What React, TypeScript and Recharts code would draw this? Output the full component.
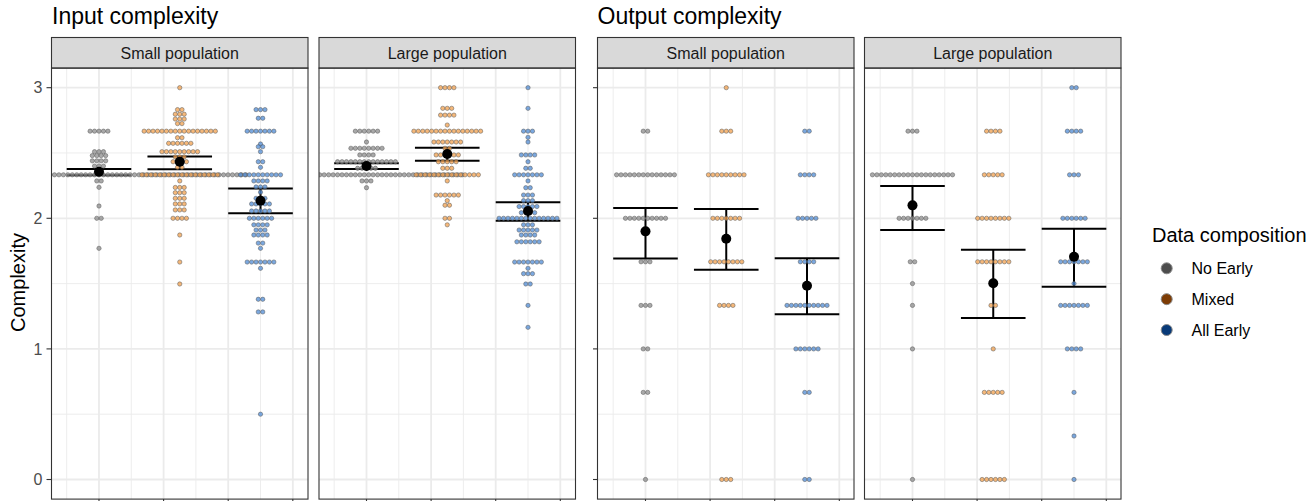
import { ScatterChart, Scatter, XAxis, YAxis, CartesianGrid, ErrorBar } from "recharts";

// Data composition groups, facets, plot titles
const GROUPS = ["No Early", "Mixed", "All Early"];
const FACETS = ["Small population", "Large population"];
const PLOT_TITLES = ["Input complexity", "Output complexity"];

// Swarm rows: [complexity value, number of dots at that value]
const IN_SMALL_NO_EARLY = [
  [2.667, 5], [2.51, 3], [2.48, 4], [2.44, 4], [2.4, 3], [2.333, 67],
  [2.286, 2], [2.237, 1], [2.094, 1], [2.0, 2], [1.77, 1],
];
const IN_SMALL_MIXED = [
  [3.0, 1], [2.832, 2], [2.797, 3], [2.76, 3], [2.725, 2], [2.667, 17],
  [2.617, 2], [2.574, 6], [2.51, 9], [2.47, 3], [2.433, 4], [2.39, 2],
  [2.333, 18], [2.286, 1], [2.236, 3], [2.196, 3], [2.153, 3], [2.11, 3],
  [2.064, 3], [2.0, 4], [1.872, 1], [1.665, 1], [1.497, 1],
];
const IN_SMALL_ALL_EARLY = [
  [2.832, 3], [2.766, 2], [2.667, 7], [2.569, 1], [2.548, 2], [2.51, 1],
  [2.433, 2], [2.39, 1], [2.333, 10], [2.286, 4], [2.24, 3], [2.2, 1],
  [2.153, 3], [2.11, 5], [2.056, 5], [2.0, 6], [1.95, 4], [1.91, 3],
  [1.872, 4], [1.81, 2], [1.77, 1], [1.665, 7], [1.617, 1], [1.38, 2],
  [1.283, 2], [0.5, 1],
];
const IN_LARGE_NO_EARLY = [
  [2.667, 6], [2.584, 1], [2.536, 8], [2.485, 4], [2.433, 14], [2.383, 5],
  [2.333, 44], [2.286, 3], [2.234, 1],
];
const IN_LARGE_MIXED = [
  [3.0, 4], [2.842, 3], [2.79, 4], [2.714, 1], [2.667, 16], [2.584, 7],
  [2.536, 2], [2.485, 6], [2.433, 5], [2.383, 3], [2.333, 15], [2.286, 1],
  [2.178, 6], [2.135, 1], [2.1, 2], [2.0, 2], [1.95, 1],
];
const IN_LARGE_ALL_EARLY = [
  [3.0, 1], [2.842, 1], [2.667, 3], [2.62, 1], [2.584, 1], [2.485, 4],
  [2.433, 1], [2.383, 2], [2.333, 7], [2.286, 1], [2.234, 2], [2.178, 3],
  [2.135, 3], [2.09, 5], [2.043, 4], [2.0, 14], [1.95, 3], [1.91, 5],
  [1.872, 4], [1.82, 6], [1.665, 7], [1.617, 1], [1.576, 3], [1.497, 2],
  [1.333, 1], [1.165, 1],
];
const OUT_SMALL_NO_EARLY = [
  [2.667, 2], [2.333, 14], [2.0, 10], [1.667, 3], [1.333, 3], [1.0, 2], [0.667, 2], [0, 1],
];
const OUT_SMALL_MIXED = [
  [3.0, 1], [2.667, 3], [2.333, 9], [2.0, 7], [1.667, 8], [1.333, 4], [0, 3],
];
const OUT_SMALL_ALL_EARLY = [
  [2.667, 2], [2.333, 4], [2.0, 5], [1.667, 4], [1.333, 10], [1.0, 6], [0.667, 2], [0, 2],
];
const OUT_LARGE_NO_EARLY = [
  [2.667, 3], [2.333, 19], [2.0, 7], [1.667, 2], [1.5, 1], [1.333, 1], [1.0, 1], [0, 1],
];
const OUT_LARGE_MIXED = [
  [2.667, 4], [2.333, 5], [2.0, 8], [1.667, 8], [1.333, 2], [1.0, 1], [0.667, 5], [0, 6],
];
const OUT_LARGE_ALL_EARLY = [
  [3.0, 2], [2.667, 4], [2.333, 3], [2.0, 6], [1.667, 7], [1.5, 1], [1.333, 7],
  [1.0, 4], [0.667, 1], [0.333, 1], [0, 1],
];

// Group means and interval ends (No Early, Mixed, All Early)
const IN_SMALL_MEAN = [2.357, 2.433, 2.135];
const IN_SMALL_LO = [2.33, 2.375, 2.038];
const IN_SMALL_HI = [2.377, 2.474, 2.229];
const IN_LARGE_MEAN = [2.4, 2.492, 2.056];
const IN_LARGE_LO = [2.377, 2.441, 1.982];
const IN_LARGE_HI = [2.421, 2.541, 2.122];
const OUT_SMALL_MEAN = [1.9, 1.844, 1.484];
const OUT_SMALL_LO = [1.692, 1.606, 1.265];
const OUT_SMALL_HI = [2.079, 2.071, 1.694];
const OUT_LARGE_MEAN = [2.099, 1.502, 1.706];
const OUT_LARGE_LO = [1.91, 1.237, 1.476];
const OUT_LARGE_HI = [2.247, 1.76, 1.92];

const Y_TICKS = [0, 1, 2, 3];
const Y_MINOR = [0.5, 1.5, 2.5];
const X_TICKS = [0, 1, 2, 3];
const X_MINOR = [-0.5, 0.5, 1.5, 2.5];

// layout
const FONT = "'Liberation Sans', Arial, Helvetica, sans-serif";
const GROUP_X = [0, 1.25, 2.5];
const X_DOMAIN = [-0.735, 3.235];
const Y_DOMAIN = [-0.15, 3.15];
const PANEL_W = 256.5;
const PLOT_TOP = 68.1;
const PLOT_H = 431;
const STRIP_TOP = 37.5;
const PX_PER_X = PANEL_W / (X_DOMAIN[1] - X_DOMAIN[0]);
const DOT_STEP = 4.45 / PX_PER_X;
const DOT_FILL = ["#8c8c8c", "#f2a04e", "#4f8bd4"];
const LEGEND_FILL = ["#4d4d4d", "#7d3c05", "#083a78"];

type Row = number[];

// centred rows of dots, one row per value (beeswarm style)
function swarm(rows: Row[], cx: number) {
  const pts: { x: number; y: number }[] = [];
  rows.forEach(([v, n]) => {
    for (let i = 0; i < n; i++) pts.push({ x: cx + (i - (n - 1) / 2) * DOT_STEP, y: v });
  });
  return pts;
}

interface PanelProps {
  left: number;
  yMode: "labels" | "ticks" | "none";
  groups: Row[][];
  mean: number[];
  lo: number[];
  hi: number[];
}

function Panel({ left, yMode, groups, mean, lo, hi }: PanelProps) {
  const yw = yMode === "labels" ? left : yMode === "ticks" ? 10 : 0;
  const stats = mean.map((m, g) => ({ x: GROUP_X[g], y: m, err: [m - lo[g], hi[g] - m] }));
  const tickLine = { stroke: "#333333", strokeWidth: 1.1 };
  return (
    <div style={{ position: "absolute", left: left - yw, top: 0 }}>
      <ScatterChart
        width={yw + PANEL_W}
        height={PLOT_TOP + PLOT_H + 12}
        margin={{ top: PLOT_TOP, right: 0, bottom: 0, left: 0 }}
      >
        <CartesianGrid horizontalValues={Y_MINOR} verticalValues={X_MINOR} stroke="#ebebeb" strokeWidth={0.9} />
        <CartesianGrid horizontalValues={Y_TICKS} verticalValues={X_TICKS} stroke="#ebebeb" strokeWidth={1.8} />
        <XAxis
          type="number"
          dataKey="x"
          domain={X_DOMAIN}
          ticks={X_TICKS}
          interval={0}
          allowDataOverflow
          axisLine={false}
          tickLine={tickLine}
          tickSize={5}
          tickFormatter={() => ""}
          height={12}
        />
        <YAxis
          type="number"
          dataKey="y"
          domain={Y_DOMAIN}
          ticks={Y_TICKS}
          interval={0}
          allowDataOverflow
          hide={yMode === "none"}
          width={yw}
          axisLine={false}
          tickLine={tickLine}
          tickSize={5}
          tickMargin={4}
          tick={{ fill: "#4d4d4d", fontSize: 16 }}
          tickFormatter={(v: number) => (yMode === "labels" ? String(v) : "")}
        />
        {groups.map((rows, g) => (
          <Scatter
            key={GROUPS[g]}
            name={GROUPS[g]}
            data={swarm(rows, GROUP_X[g])}
            isAnimationActive={false}
            shape={(p: any) => (
              <circle
                cx={p.cx}
                cy={p.cy}
                r={2.15}
                fill={DOT_FILL[g]}
                fillOpacity={0.75}
                stroke="#555555"
                strokeWidth={0.5}
              />
            )}
          />
        ))}
        <Scatter
          data={stats}
          isAnimationActive={false}
          shape={(p: any) => <circle cx={p.cx} cy={p.cy} r={5} fill="#000000" />}
        >
          <ErrorBar dataKey="err" direction="y" width={32.3} strokeWidth={2} stroke="#000000" />
        </Scatter>
      </ScatterChart>
    </div>
  );
}

const PANEL_LEFT = [51.5, 319, 597.5, 864.5];

export default function App() {
  const panels = [
    { groups: [IN_SMALL_NO_EARLY, IN_SMALL_MIXED, IN_SMALL_ALL_EARLY], mean: IN_SMALL_MEAN, lo: IN_SMALL_LO, hi: IN_SMALL_HI },
    { groups: [IN_LARGE_NO_EARLY, IN_LARGE_MIXED, IN_LARGE_ALL_EARLY], mean: IN_LARGE_MEAN, lo: IN_LARGE_LO, hi: IN_LARGE_HI },
    { groups: [OUT_SMALL_NO_EARLY, OUT_SMALL_MIXED, OUT_SMALL_ALL_EARLY], mean: OUT_SMALL_MEAN, lo: OUT_SMALL_LO, hi: OUT_SMALL_HI },
    { groups: [OUT_LARGE_NO_EARLY, OUT_LARGE_MIXED, OUT_LARGE_ALL_EARLY], mean: OUT_LARGE_MEAN, lo: OUT_LARGE_LO, hi: OUT_LARGE_HI },
  ];
  const yModes: PanelProps["yMode"][] = ["labels", "none", "ticks", "none"];

  return (
    <div
      style={{
        position: "absolute",
        left: 0,
        top: 0,
        width: 1313,
        height: 501,
        overflow: "hidden",
        background: "#ffffff",
        fontFamily: FONT,
      }}
    >
      {panels.map((p, i) => (
        <Panel key={i} left={PANEL_LEFT[i]} yMode={yModes[i]} {...p} />
      ))}
      <svg
        width={1313}
        height={501}
        style={{ position: "absolute", left: 0, top: 0, pointerEvents: "none", fontFamily: FONT }}
      >
        {PANEL_LEFT.map((x, i) => (
          <g key={i}>
            <rect x={x} y={STRIP_TOP} width={PANEL_W} height={PLOT_TOP - STRIP_TOP} fill="#d9d9d9" stroke="#333333" strokeWidth={1.1} />
            <text x={x + PANEL_W / 2} y={59} textAnchor="middle" fontSize={16} fill="#1a1a1a">
              {FACETS[i % 2]}
            </text>
            <rect x={x} y={PLOT_TOP} width={PANEL_W} height={PLOT_H} fill="none" stroke="#333333" strokeWidth={1.1} />
          </g>
        ))}
        <text x={52} y={24} fontSize={23} fill="#000000">{PLOT_TITLES[0]}</text>
        <text x={597.5} y={24} fontSize={23} fill="#000000">{PLOT_TITLES[1]}</text>
        <text
          x={17.5}
          y={282.5}
          fontSize={20}
          fill="#000000"
          textAnchor="middle"
          dominantBaseline="central"
          transform="rotate(-90 17.5 282.5)"
        >
          Complexity
        </text>
        <text x={1152} y={241.7} fontSize={20} fill="#000000">Data composition</text>
        {GROUPS.map((g, i) => (
          <g key={g}>
            <circle cx={1166.7} cy={268.3 + i * 30.85} r={5.5} fill={LEGEND_FILL[i]} stroke="#8a8a8a" strokeWidth={1} />
            <text x={1191.5} y={268.3 + i * 30.85} fontSize={16} fill="#000000" dominantBaseline="central">
              {g}
            </text>
          </g>
        ))}
      </svg>
    </div>
  );
}
